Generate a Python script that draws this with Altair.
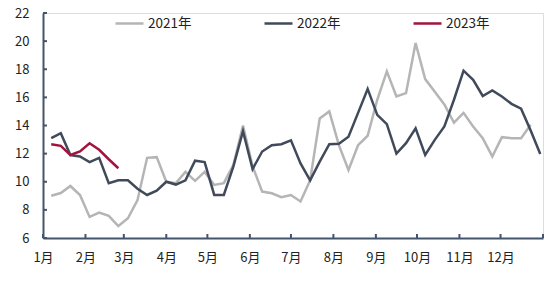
import altair as alt
import pandas as pd

series_names = ["2021年", "2022年", "2023年"]
colors = ["#B5B5B5", "#414A5A", "#A3133E"]

v2021 = [9.0, 9.2, 9.7, 9.06, 7.5, 7.8, 7.57, 6.85, 7.4, 8.7,
         11.7, 11.75, 10.0, 9.9, 10.7, 10.06, 10.7, 9.77, 9.9, 11.2,
         14.0, 11.1, 9.3, 9.18, 8.9, 9.06, 8.6, 10.1, 14.5, 15.0,
         12.6, 10.84, 12.6, 13.27, 15.83, 17.85, 16.06, 16.3, 19.87, 17.3,
         16.4, 15.5, 14.2, 14.9, 13.93, 13.1, 11.8, 13.17, 13.1, 13.1,
         14.05]
v2022 = [13.1, 13.45, 11.9, 11.8, 11.4, 11.7, 9.9, 10.1, 10.1, 9.5,
         9.06, 9.37, 10.0, 9.8, 10.1, 11.5, 11.4, 9.06, 9.06, 11.1,
         13.6, 10.9, 12.15, 12.6, 12.67, 12.95, 11.3, 10.1, 11.43, 12.67,
         12.7, 13.2, 14.9, 16.6, 14.76, 14.1, 12.0, 12.74, 13.8, 11.9,
         12.98, 13.93, 15.83, 17.9, 17.25, 16.1, 16.5, 16.06, 15.54, 15.2,
         13.64, 11.98]
v2023 = [12.67, 12.55, 11.9, 12.15, 12.74, 12.27, 11.6, 10.96]

# weekly observations, day of year of first week
first_day = 6
month_days = [0, 31, 59, 90, 120, 151, 181, 212, 243, 273, 304, 334, 365]
month_labels = ["1月", "2月", "3月", "4月", "5月", "6月", "7月", "8月",
                "9月", "10月", "11月", "12月", ""]
y_ticks = [6, 8, 10, 12, 14, 16, 18, 20, 22]

rows = []
for name, vals in zip(series_names, [v2021, v2022, v2023]):
    for i, v in enumerate(vals):
        rows.append({"day": first_day + 7 * i, "value": v, "year": name, "order": series_names.index(name)})
df = pd.DataFrame(rows)

label_expr = "''"
for d, lab in zip(reversed(month_days), reversed(month_labels)):
    label_expr = f"datum.value == {d} ? '{lab}' : ({label_expr})"

W, H = 500, 225
FONT = "Noto Sans CJK SC"
AX = "#44546A"

xscale = alt.Scale(domain=[0, 365], nice=False, zero=False)
yscale = alt.Scale(domain=[6, 22], nice=False, zero=False)

xaxis = alt.Axis(values=month_days, labelExpr=label_expr, title=None,
                 grid=False, ticks=False, domainColor=AX, domainWidth=2,
                 labelPadding=13, labelFont=FONT, labelFontSize=13,
                 labelColor="#222222", labelFlush=False, labelOverlap=False)
yaxis = alt.Axis(values=y_ticks, title=None, grid=False, ticks=False,
                 domainColor=AX, domainWidth=2, labelPadding=14,
                 labelFont=FONT, labelFontSize=13, labelColor="#222222",
                 labelOverlap=False, labelFlush=False)

lines = alt.Chart(df).mark_line(strokeWidth=2.5).encode(
    x=alt.X("day:Q", scale=xscale, axis=xaxis),
    y=alt.Y("value:Q", scale=yscale, axis=yaxis),
    color=alt.Color("year:N", scale=alt.Scale(domain=series_names, range=colors),
                    legend=alt.Legend(title=None, orient="none", direction="horizontal",
                                      legendX=71, legendY=-5, symbolType="stroke",
                                      symbolSize=784, symbolStrokeWidth=2.5,
                                      labelFont=FONT, labelFontSize=13.5,
                                      labelColor="#222222", columnPadding=67,
                                      labelOffset=3)),
    order="order:Q",
    detail="year:N",
)

ydf = pd.DataFrame({"v": y_ticks})
yt = alt.Chart(ydf).mark_rule(color=AX, strokeWidth=2).encode(
    y=alt.Y("v:Q", scale=yscale, axis=yaxis), x=alt.value(0), x2=alt.value(4))

xdf = pd.DataFrame({"d": month_days})
xt = alt.Chart(xdf).mark_rule(color=AX, strokeWidth=2).encode(
    x=alt.X("d:Q", scale=xscale, axis=xaxis), y=alt.value(H - 4), y2=alt.value(H))

chart = alt.layer(lines, yt, xt).properties(
    width=W, height=H,
    autosize=alt.AutoSizeParams(type="none"),
    padding={"left": 43, "top": 13, "right": 7, "bottom": 44},
).configure_view(stroke=None).configure(background="white")

chart.save("out.html", embed_options={"renderer": "svg", "actions": False})
